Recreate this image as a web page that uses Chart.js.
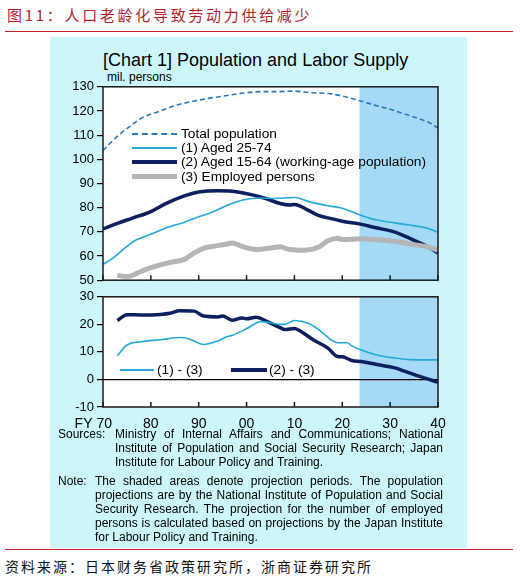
<!DOCTYPE html>
<html>
<head>
<meta charset="utf-8">
<script src="https://cdn.jsdelivr.net/npm/chart.js@4.4.1/dist/chart.umd.min.js"></script>
<style>
  body { margin:0; width:520px; height:580px; background:#fff; position:relative; overflow:hidden;
         font-family:"Liberation Sans", Arial, sans-serif; color:#000; }
  .abs { position:absolute; white-space:nowrap; }
  .rule { position:absolute; left:5px; width:508px; height:1px; background:#c0262d; }
  .cn { font-family:"Noto Sans CJK SC", sans-serif; }
  .lg { position:absolute; font-size:13.7px; line-height:14px; white-space:nowrap; }
  .smp { position:absolute; }
  .j { text-align:justify; text-align-last:justify; }
  .note { position:absolute; font-size:12px; line-height:14px; }
</style>
</head>
<body>
<div class="abs cn" style="left:7px;top:7px;font-size:15px;line-height:15px;letter-spacing:2.7px;color:#b41e28">图11：人口老龄化导致劳动力供给减少</div>
<div class="rule" style="top:31px"></div>

<div class="abs" style="left:50px;top:37px;width:417px;height:511px;background:#ccf6f9"></div>
<div class="abs" style="left:103px;top:51px;font-size:18px;line-height:18px">[Chart 1] Population and Labor Supply</div>
<div class="abs" style="left:107px;top:71px;font-size:12px;line-height:13px">mil. persons</div>

<canvas id="topChart" width="395" height="215" class="abs" style="left:55px;top:76px"></canvas>
<canvas id="botChart" width="395" height="149" class="abs" style="left:55px;top:286px"></canvas>

<!-- legend upper -->
<div class="smp" style="left:132px;top:133px;width:45px;border-top:2px dashed #2d78b8"></div>
<div class="lg" style="left:181px;top:127px">Total population</div>
<div class="smp" style="left:132px;top:147px;width:45px;height:2px;background:#23a9d8"></div>
<div class="lg" style="left:181px;top:141px">(1) Aged 25-74</div>
<div class="smp" style="left:132px;top:160px;width:45px;height:4px;background:#0c1f5e"></div>
<div class="lg" style="left:181px;top:155px">(2) Aged 15-64 (working-age population)</div>
<div class="smp" style="left:132px;top:174px;width:45px;height:5px;background:#b5b5b5"></div>
<div class="lg" style="left:181px;top:170px">(3) Employed persons</div>

<!-- legend lower -->
<div class="smp" style="left:120px;top:369px;width:34px;height:2px;background:#23a9d8"></div>
<div class="lg" style="left:157px;top:363px">(1) - (3)</div>
<div class="smp" style="left:231px;top:368px;width:36px;height:4px;background:#0c1f5e"></div>
<div class="lg" style="left:269px;top:363px">(2) - (3)</div>

<!-- sources / note -->
<div class="note" style="left:58px;top:427px">Sources:</div>
<div class="note" style="left:115px;top:427px;width:328px">
  <div class="j">Ministry of Internal Affairs and Communications; National</div>
  <div class="j">Institute of Population and Social Security Research; Japan</div>
  <div>Institute for Labour Policy and Training.</div>
</div>
<div class="note" style="left:58px;top:474px">Note:</div>
<div class="note" style="left:95px;top:474px;width:348px">
  <div class="j">The shaded areas denote projection periods. The population</div>
  <div class="j">projections are by the National Institute of Population and Social</div>
  <div class="j">Security Research. The projection for the number of employed</div>
  <div class="j">persons is calculated based on projections by the Japan Institute</div>
  <div>for Labour Policy and Training.</div>
</div>

<div class="rule" style="top:549px"></div>
<div class="abs cn" style="left:5px;top:559px;font-size:14px;line-height:15px;letter-spacing:2px;color:#111">资料来源：日本财务省政策研究所，浙商证券研究所</div>

<script>
// valores (milhoes de pessoas), anos fiscais
const projStart = 2023.6; // inicio da projecao (area sombreada)

const totalYears = [1970, 1973, 1976, 1978, 1982, 1985, 1989, 1992, 1996, 1999, 2003, 2006, 2010, 2013, 2017, 2020, 2024, 2027, 2031, 2034, 2038, 2040];
const totalPop   = [103.6, 109.5, 114.2, 117, 120, 122.2, 124.1, 125.2, 126.4, 127.3, 128, 128, 128.2, 127.6, 127.2, 126.2, 124, 122.3, 120.1, 118.1, 115.3, 113];

const age2574Years = [1970, 1972, 1975, 1977, 1980, 1983, 1987, 1990, 1993, 1996, 1999, 2003, 2006, 2010, 2013, 2017, 2020, 2024, 2027, 2031, 2034, 2038, 2040];
const age2574      = [56.5, 59, 64, 66.7, 69, 71.5, 74, 76.2, 78.3, 81, 83.1, 84, 83.8, 84.2, 82.5, 80.8, 79.8, 76.8, 75, 73.7, 72.8, 71.4, 69.8];

const age1564Years = [1970, 1973, 1976, 1980, 1983, 1987, 1990, 1994, 1997, 2001, 2004, 2007, 2009, 2010, 2013, 2015, 2017, 2020, 2024, 2027, 2031, 2034, 2038, 2040];
const age1564      = [71.2, 73.5, 75.6, 78.4, 81.6, 84.9, 86.5, 87, 86.8, 85.4, 83.8, 81.7, 81.1, 81.3, 78.8, 76.8, 75.8, 74.4, 73.1, 71.7, 69.9, 67.4, 63.7, 61.3];

const employedYears = [1973, 1975, 1978, 1980, 1984, 1987, 1989, 1991, 1993, 1996, 1997, 1999, 2002, 2005, 2007, 2009, 2012, 2015, 2017, 2019, 2020, 2024, 2027, 2031, 2034, 2038, 2040];
const employed      = [52, 51.5, 53.7, 55.2, 57.4, 58.6, 61.2, 63.2, 64, 65, 65.4, 64, 62.7, 63.3, 63.8, 62.7, 62.4, 63.6, 66.3, 67.4, 66.8, 67.1, 66.8, 66, 65, 63.7, 62.4];

// painel de baixo: diferencas
const gap13Years = [1973, 1975, 1978, 1982, 1986, 1988, 1991, 1994, 1996, 1997, 2000, 2003, 2005, 2007, 2008, 2010, 2013, 2015, 2018, 2019, 2021, 2022, 2024, 2027, 2031, 2034, 2040];
const gap13      = [8.6, 12.5, 13.7, 14.4, 15.2, 14.7, 12.7, 14, 15.6, 16, 18.4, 21, 20.6, 20, 20, 21.4, 20.3, 18.2, 14, 13.3, 13.3, 12.2, 10.7, 9, 7.8, 7.2, 7.1];

const gap23Years = [1973, 1975, 1978, 1982, 1984, 1986, 1989, 1991, 1994, 1995, 1997, 1999, 2000, 2002, 2004, 2007, 2008, 2010, 2011, 2014, 2017, 2019, 2020, 2022, 2024, 2027, 2031, 2033, 2036, 2040];
const gap23      = [21.4, 23.5, 23.4, 23.6, 24, 24.9, 24.8, 23, 22.7, 23, 21.5, 22.3, 22, 22.6, 21.3, 18.8, 18.1, 18.5, 17.8, 14.3, 11.4, 8.3, 8.2, 6.9, 6.5, 5.5, 4.2, 3, 1.2, -1];

const xTicks = [1970, 1980, 1990, 2000, 2010, 2020, 2030, 2040];

function pts(xs, ys) {
  return xs.map((x, i) => ({ x: x, y: ys[i] }));
}

Chart.defaults.font.family = '"Liberation Sans", Arial, sans-serif';
Chart.defaults.color = '#000';

// fundo branco + area de projecao + moldura + ticks para dentro
const framePlugin = {
  id: 'frame',
  beforeDraw(chart) {
    const a = chart.chartArea, ctx = chart.ctx, x = chart.scales.x;
    ctx.save();
    ctx.fillStyle = '#fff';
    ctx.fillRect(a.left, a.top, a.right - a.left, a.bottom - a.top);
    const px = x.getPixelForValue(projStart);
    ctx.fillStyle = '#a5daf7';
    ctx.fillRect(px, a.top, a.right - px, a.bottom - a.top);
    ctx.restore();
  },
  afterDraw(chart) {
    const a = chart.chartArea, ctx = chart.ctx, x = chart.scales.x;
    ctx.save();
    ctx.strokeStyle = '#1a1a1a';
    ctx.lineWidth = 1.5;
    ctx.beginPath();
    xTicks.forEach(v => {
      const px = x.getPixelForValue(v);
      ctx.moveTo(px, a.bottom);
      ctx.lineTo(px, a.bottom - 5);
    });
    ctx.stroke();
    ctx.strokeRect(a.left, a.top, a.right - a.left, a.bottom - a.top);
    ctx.restore();
  }
};

function line(data, color, width, dash) {
  return {
    data: data,
    borderColor: color,
    borderWidth: width,
    borderDash: dash || [],
    pointRadius: 0,
    fill: false,
    cubicInterpolationMode: 'monotone',
    borderCapStyle: 'butt'
  };
}

const xBase = {
  type: 'linear',
  min: 1970,
  max: 2040,
  afterBuildTicks: s => { s.ticks = xTicks.map(v => ({ value: v })); }
};

// GRAFICO DE CIMA
new Chart(document.getElementById('topChart'), {
  type: 'line',
  data: {
    datasets: [
      line(pts(employedYears, employed), '#b5b5b5', 5),
      line(pts(totalYears, totalPop), '#2d78b8', 1.6, [5, 3]),
      line(pts(age2574Years, age2574), '#23a9d8', 1.6),
      line(pts(age1564Years, age1564), '#0c1f5e', 3.5)
    ]
  },
  options: {
    responsive: false,
    animation: false,
    layout: { padding: { top: 10, right: 12, bottom: 10, left: 0 } },
    plugins: { legend: { display: false }, tooltip: { enabled: false } },
    scales: {
      x: Object.assign({}, xBase, { display: false }),
      y: {
        min: 50,
        max: 130,
        afterFit: s => { s.width = 48; },
        ticks: { stepSize: 10, font: { size: 13 }, padding: 3 },
        grid: { drawOnChartArea: false, tickLength: 6, color: '#000', lineWidth: 1.2 },
        border: { display: false }
      }
    }
  },
  plugins: [framePlugin]
});

// GRAFICO DE BAIXO
new Chart(document.getElementById('botChart'), {
  type: 'line',
  data: {
    datasets: [
      line(pts(gap13Years, gap13), '#23a9d8', 1.6),
      line(pts(gap23Years, gap23), '#0c1f5e', 3.5)
    ]
  },
  options: {
    responsive: false,
    animation: false,
    layout: { padding: { top: 10, right: 12, bottom: 4, left: 0 } },
    plugins: { legend: { display: false }, tooltip: { enabled: false } },
    scales: {
      x: Object.assign({}, xBase, {
        afterFit: s => { s.height = 24; s.paddingLeft = 0; s.paddingRight = 0; },
        grid: { display: false, drawTicks: false },
        border: { display: false },
        ticks: {
          padding: 9,
          font: { size: 14 },
          maxRotation: 0,
          autoSkip: false,
          callback: v => v === 1970 ? 'FY 70     ' : String(v % 100).padStart(2, '0')
        }
      }),
      y: {
        min: -10,
        max: 30,
        afterFit: s => { s.width = 48; },
        ticks: { stepSize: 10, font: { size: 13 }, padding: 3 },
        grid: {
          tickLength: 6,
          tickColor: '#000',
          lineWidth: 1.2,
          color: c => (c.tick && c.tick.value === 0) ? '#000' : 'rgba(0,0,0,0)'
        },
        border: { display: false }
      }
    }
  },
  plugins: [framePlugin]
});
</script>
</body>
</html>
